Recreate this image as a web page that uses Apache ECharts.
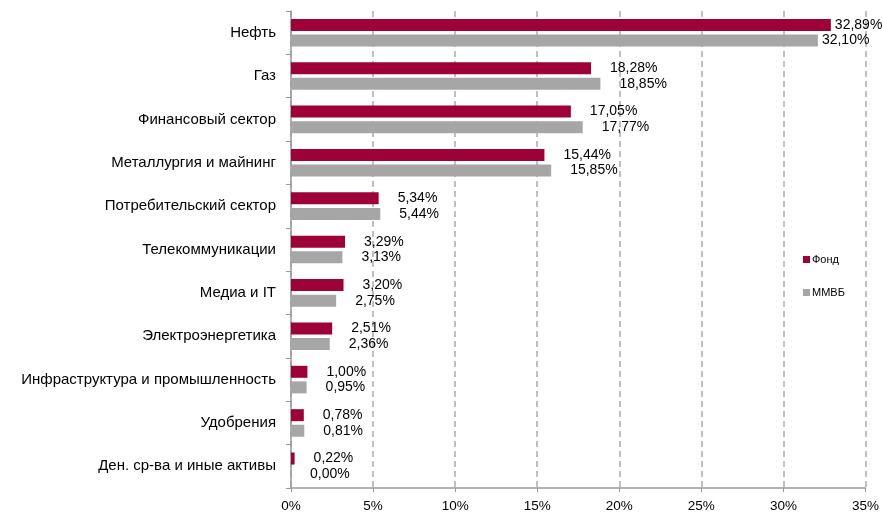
<!DOCTYPE html>
<html>
<head>
<meta charset="utf-8">
<script src="https://cdn.jsdelivr.net/npm/echarts@6/dist/echarts.min.js"></script>
<style>
  html, body { margin: 0; padding: 0; background: #fff; }
  #chart { width: 882px; height: 516px; }
</style>
</head>
<body>
<div id="chart"></div>
<script>
const categories = [
  'Нефть', 'Газ', 'Финансовый сектор', 'Металлургия и майнинг', 'Потребительский сектор',
  'Телекоммуникации', 'Медиа и IT', 'Электроэнергетика', 'Инфраструктура и промышленность',
  'Удобрения', 'Ден. ср-ва и иные активы'
];
const fund = [32.89, 18.28, 17.05, 15.44, 5.34, 3.29, 3.20, 2.51, 1.00, 0.78, 0.22];
const micex = [32.10, 18.85, 17.77, 15.85, 5.44, 3.13, 2.75, 2.36, 0.95, 0.81, 0.00];
const xTicks = [0, 5, 10, 15, 20, 25, 30, 35];

const font = 'Liberation Sans, Arial, sans-serif';
const fmt = (v) => v.toFixed(2).replace('.', ',') + '%';

const chart = echarts.init(document.getElementById('chart'));

const makeData = (arr) => arr.map((v, i) => (
  i === 0 ? { value: v, label: { distance: 4 } } : v
));

const labelStyle = {
  show: true,
  position: 'right',
  distance: 19,
  color: '#000',
  fontFamily: font,
  fontSize: 14,
  formatter: (p) => fmt(p.value),
};

chart.setOption({
  animation: false,
  backgroundColor: '#fff',
  grid: { left: 291, right: 14, top: 11, bottom: 28 },
  legend: {
    orient: 'vertical',
    left: 798,
    top: 249,
    itemGap: 22,
    itemWidth: 7,
    itemHeight: 7,
    icon: 'rect',
    textStyle: { fontFamily: font, fontSize: 11, color: '#000', padding: [0, 0, 0, -3] },
    data: ['Фонд', 'ММВБ'],
  },
  xAxis: {
    type: 'value',
    min: xTicks[0],
    max: xTicks[xTicks.length - 1],
    interval: 5,
    axisLine: { show: true, lineStyle: { color: '#999', width: 1.5 } },
    axisTick: { show: true, length: 4, lineStyle: { color: '#999' } },
    axisLabel: {
      color: '#000', fontFamily: font, fontSize: 13.5, margin: 11,
      formatter: (v) => v + '%',
    },
    splitLine: { show: true, lineStyle: { color: '#aaa', type: [6, 4], width: 1.5 } },
  },
  yAxis: {
    type: 'category',
    inverse: true,
    data: categories,
    axisLine: { show: true, lineStyle: { color: '#999', width: 1.5 } },
    axisTick: { show: true, length: 5, lineStyle: { color: '#999' } },
    axisLabel: { color: '#000', fontFamily: font, fontSize: 15, margin: 15 },
  },
  series: [
    {
      name: 'Фонд',
      type: 'bar',
      data: makeData(fund),
      barWidth: 12,
      barGap: '30%',
      itemStyle: { color: '#9E0038' },
      label: labelStyle,
    },
    {
      name: 'ММВБ',
      type: 'bar',
      data: makeData(micex),
      barWidth: 12,
      itemStyle: { color: '#A6A6A6' },
      label: labelStyle,
    },
  ],
});
</script>
</body>
</html>
